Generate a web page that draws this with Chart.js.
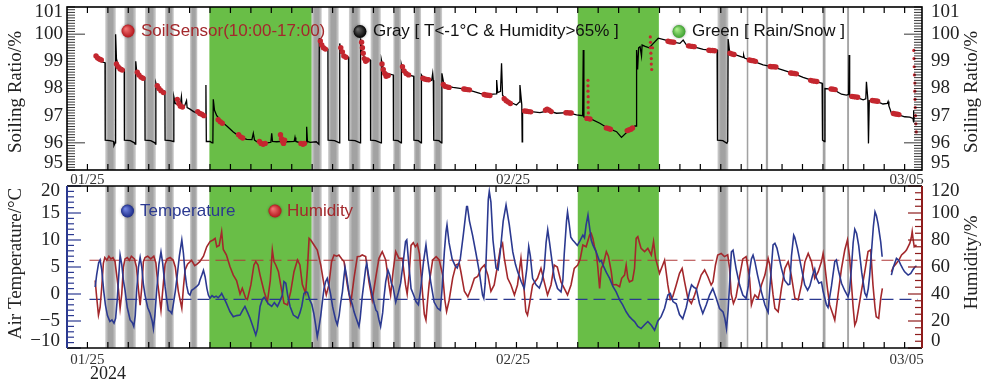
<!DOCTYPE html>
<html>
<head>
<meta charset="utf-8">
<title>Soiling ratio, temperature and humidity</title>
<script src="https://cdn.jsdelivr.net/npm/chart.js@4.4.1/dist/chart.umd.min.js"></script>
<style>
  html, body { margin: 0; padding: 0; background: #fff; }
  #wrap { position: relative; width: 983px; height: 386px; overflow: hidden; }
  canvas { position: absolute; left: 0; }
  #soilCanvas { top: 0; }
  #weatherCanvas { top: 180px; }
</style>
</head>
<body>
<div id="wrap">
  <canvas id="soilCanvas" width="983" height="190"></canvas>
  <canvas id="weatherCanvas" width="983" height="206"></canvas>
</div>
<script>
// Soiling ratio + weather — x values are days since 01/25 00:00

// ── Data ─────────────────────────────────────────────────────────
const soilLine = [
  [0.38, 99.15], [0.5, 99.05], [0.7, 98.98], [0.86, 98.95],
  [0.87, 96.1], [1.1, 96.08], [1.28, 96.05], [1.30, 95.9], [1.36, 96.0],
  [1.38, 100.0], [1.42, 99.1], [1.5, 98.85], [1.7, 98.75], [1.8, 98.7],
  [1.81, 96.1], [2.1, 96.08], [2.3, 96.0], [2.33, 95.95], [2.36, 96.05],
  [2.37, 99.0], [2.42, 98.55], [2.6, 98.45], [2.81, 98.4],
  [2.82, 96.1], [3.1, 96.08], [3.3, 96.0], [3.33, 95.95],
  [3.35, 98.2], [3.42, 98.0], [3.6, 97.95], [3.79, 97.9],
  [3.80, 96.1], [4.05, 96.08], [4.22, 96.05],
  [4.23, 97.7], [4.3, 97.45], [4.45, 97.4], [4.55, 97.42], [4.6, 97.7], [4.63, 97.38], [4.75, 97.35],
  [4.85, 97.55], [4.88, 97.3], [5.0, 97.25], [5.2, 97.15], [5.4, 97.08], [5.6, 97.05], [5.78, 97.02],
  [5.8, 98.13], [5.82, 96.05], [6.0, 96.05], [6.1, 96.0], [6.14, 96.05],
  [6.16, 97.6], [6.22, 97.2], [6.33, 97.0], [6.57, 96.78], [6.85, 96.6], [7.14, 96.4], [7.47, 96.22],
  [7.8, 96.13], [8.05, 96.12], [8.12, 96.35], [8.18, 96.1], [8.29, 96.04], [8.6, 96.0], [8.8, 96.0],
  [8.98, 96.02], [9.02, 96.35], [9.06, 96.05], [9.27, 96.04], [9.5, 96.05], [9.75, 96.04], [10.12, 96.05],
  [10.16, 96.2], [10.2, 96.05], [10.5, 95.98], [10.7, 96.0], [10.73, 96.59], [10.77, 96.05], [10.9, 96.02],
  [11.2, 96.04], [11.33, 95.95],
  [11.35, 99.85], [11.4, 99.65], [11.6, 99.5], [11.77, 99.45],
  [11.78, 96.1], [12.1, 96.08], [12.33, 96.0],
  [12.35, 99.66], [12.42, 99.3], [12.6, 99.2], [12.78, 99.15],
  [12.79, 96.1], [13.1, 96.08], [13.35, 96.0],
  [13.37, 99.85], [13.45, 99.3], [13.6, 99.1], [13.85, 99.05],
  [13.86, 96.1], [14.1, 96.08], [14.37, 96.0],
  [14.39, 99.05], [14.5, 98.65], [14.7, 98.55], [14.97, 98.5],
  [14.98, 96.1], [15.2, 96.08], [15.35, 96.0],
  [15.37, 98.87], [15.45, 98.6], [15.7, 98.5], [15.97, 98.45],
  [15.98, 96.1], [16.2, 96.08], [16.33, 96.0],
  [16.35, 98.5], [16.45, 98.38], [16.7, 98.33], [16.85, 98.3], [16.9, 98.56], [16.93, 98.3],
  [16.95, 96.1], [17.2, 96.08], [17.33, 96.0],
  [17.35, 98.56], [17.45, 98.15], [17.6, 98.08], [17.9, 98.04], [18.56, 97.97], [19.21, 97.82],
  [19.54, 97.76], [19.86, 97.79], [20.0, 97.8], [20.03, 98.31], [20.08, 97.85], [20.22, 97.9],
  [20.27, 98.93], [20.32, 97.75], [20.55, 97.55], [21.0, 97.39], [21.14, 97.5], [21.17, 98.13],
  [21.26, 97.4], [21.28, 96.04], [21.3, 97.21], [21.5, 97.17], [22.15, 97.11], [22.55, 97.18],
  [22.96, 97.09], [23.5, 97.11], [23.94, 97.03], [24.24, 97.0], [24.27, 99.42], [24.3, 96.95],
  [24.59, 96.9], [25.08, 96.72], [25.5, 96.53], [25.9, 96.41], [26.14, 96.2], [26.39, 96.38],
  [26.6, 96.47], [26.8, 96.62], [26.87, 96.62],
  [26.88, 99.42], [26.93, 98.7], [26.98, 99.5], [27.05, 99.54], [27.12, 99.2], [27.15, 99.6],
  [27.3, 99.55], [27.5, 99.5], [27.7, 99.66], [27.94, 99.85], [28.26, 99.79], [28.6, 99.72],
  [29.0, 99.66], [29.16, 99.78], [29.32, 99.6], [29.55, 99.56], [30.14, 99.44], [30.55, 99.4], [30.82, 99.42],
  [30.84, 96.1], [31.1, 96.08], [31.3, 95.98], [31.34, 96.05],
  [31.36, 99.82], [31.44, 99.3], [31.7, 99.25], [32.09, 99.15], [32.12, 99.23], [32.16, 99.12],
  [32.55, 99.02], [33.07, 98.87], [33.55, 98.8], [34.05, 98.68], [34.55, 98.56], [35.03, 98.41],
  [35.55, 98.28], [35.96, 98.19],
  [35.98, 96.1], [36.08, 96.05],
  [36.1, 98.0], [36.5, 97.97], [36.91, 97.79], [37.15, 97.76], [37.26, 97.78], [37.28, 99.23],
  [37.31, 97.7], [37.55, 97.7], [37.97, 97.58], [38.1, 97.62], [38.13, 98.25], [38.2, 97.6],
  [38.23, 95.98], [38.27, 97.55], [38.55, 97.55], [38.94, 97.43], [39.15, 97.45], [39.19, 97.52],
  [39.23, 97.36], [39.35, 97.1], [39.6, 97.06], [40.0, 96.96], [40.25, 96.95], [40.41, 96.9],
  [40.43, 97.2], [40.45, 96.75], [40.47, 96.95],
];

// SoilSensor readings between 10:00 and 17:00
const soilDots = [
  [0.42, 99.2], [0.5, 99.12], [0.6, 99.08], [0.68, 99.05],
  [1.42, 98.9], [1.5, 98.8], [1.6, 98.72], [1.7, 98.68],
  [2.44, 98.6], [2.52, 98.5], [2.62, 98.42], [2.72, 98.38],
  [3.42, 98.1], [3.5, 98.0], [3.6, 97.92], [3.72, 97.85],
  [4.4, 97.6], [4.47, 97.45], [4.55, 97.35], [4.65, 97.32],
  [5.4, 97.15], [5.5, 97.08], [5.6, 97.05], [5.7, 97.0],
  [6.4, 96.85], [6.5, 96.78], [6.6, 96.72],
  [7.4, 96.3], [7.5, 96.22], [7.6, 96.18],
  [8.42, 96.05], [8.5, 95.98], [8.6, 95.95], [8.7, 95.98],
  [9.45, 96.3], [9.5, 96.15], [9.55, 96.05], [9.6, 95.98], [9.65, 96.1],
  [10.45, 95.98], [10.55, 95.95], [10.62, 95.98],
  [11.4, 99.75], [11.47, 99.6], [11.55, 99.5], [11.65, 99.45],
  [12.4, 99.5], [12.48, 99.35], [12.55, 99.2], [12.65, 99.15],
  [13.42, 99.7], [13.46, 99.5], [13.5, 99.3], [13.55, 99.1], [13.62, 99.0], [13.7, 99.05],
  [14.42, 98.9], [14.48, 98.7], [14.55, 98.55], [14.62, 98.45], [14.72, 98.48],
  [15.42, 98.8], [15.5, 98.65], [15.6, 98.55], [15.72, 98.5],
  [16.42, 98.38], [16.5, 98.35], [16.6, 98.33], [16.7, 98.32],
  [17.42, 98.15], [17.5, 98.08], [17.6, 98.06], [17.7, 98.04],
  [18.42, 97.98], [18.5, 97.97], [18.6, 97.96], [18.7, 97.95],
  [19.42, 97.78], [19.5, 97.76], [19.6, 97.75], [19.7, 97.74],
  [20.4, 97.62], [20.5, 97.55], [20.6, 97.5], [20.7, 97.45],
  [21.4, 97.17], [21.5, 97.16], [21.6, 97.15], [21.7, 97.14],
  [22.42, 97.2], [22.5, 97.24], [22.6, 97.2], [22.7, 97.15],
  [23.42, 97.11], [23.5, 97.11], [23.6, 97.1], [23.68, 97.1],
  [24.45, 96.9], [24.6, 96.88],
  [25.4, 96.55], [25.5, 96.53], [25.6, 96.5],
  [26.42, 96.45], [26.5, 96.47], [26.6, 96.5], [26.68, 96.55],
  [28.42, 99.74], [28.5, 99.72], [28.6, 99.71], [28.7, 99.7],
  [29.42, 99.57], [29.5, 99.56], [29.6, 99.55], [29.7, 99.54],
  [30.42, 99.41], [30.5, 99.4], [30.6, 99.4], [30.7, 99.39],
  [31.45, 99.3], [31.55, 99.27], [31.65, 99.25],
  [32.4, 99.05], [32.5, 99.03], [32.6, 99.02], [32.7, 99.0],
  [33.42, 98.81], [33.5, 98.8], [33.6, 98.8], [33.7, 98.79],
  [34.42, 98.57], [34.5, 98.56], [34.6, 98.55], [34.7, 98.54],
  [35.4, 98.3], [35.5, 98.28], [35.6, 98.27], [35.7, 98.26],
  [36.4, 97.98], [36.5, 97.97], [36.6, 97.96],
  [37.42, 97.71], [37.5, 97.7], [37.6, 97.69], [37.7, 97.68],
  [38.42, 97.56], [38.5, 97.55], [38.6, 97.54], [38.68, 97.53],
  [39.45, 97.08], [39.55, 97.06], [39.65, 97.05], [39.72, 97.04],
];

// scattered sensor readings stacked in thin columns
const soilBurst = [
  [24.5, 98.3], [24.5, 98.1], [24.5, 97.9], [24.51, 97.7], [24.51, 97.5], [24.51, 97.3], [24.52, 97.1],
  [27.55, 99.9], [27.56, 99.7], [27.56, 99.5], [27.58, 99.3], [27.6, 99.1], [27.6, 98.9], [27.62, 98.7], [27.66, 99.5],
  [40.45, 99.4], [40.46, 99.1], [40.47, 98.8], [40.48, 98.5], [40.5, 98.2], [40.5, 97.9], [40.51, 97.6],
  [40.52, 97.3], [40.53, 97.0], [40.55, 96.7], [40.57, 96.4],
];

const tempLine = [
  [0.38, 1.3], [0.45, 3.5], [0.55, 5.8], [0.62, 6.3], [0.7, 4.5], [0.8, 0.5], [0.88, -2.0], [0.98, -4.0],
  [1.1, -5.1], [1.2, -4.8], [1.3, -5.4], [1.38, -4.5], [1.46, -1.0], [1.52, 2.6], [1.6, 7.2], [1.68, 5.5],
  [1.76, 2.5], [1.84, 0.7], [1.95, -2.5], [2.09, -4.8], [2.2, -5.3], [2.27, -6.0], [2.34, -4.0], [2.41, 0.7],
  [2.5, 5.0], [2.58, 6.8], [2.66, 5.0], [2.74, 1.8], [2.82, -0.2], [2.95, -2.5], [3.07, -3.6], [3.17, -5.0],
  [3.23, -6.4], [3.3, -4.0], [3.39, 0.7], [3.5, 5.5], [3.6, 7.8], [3.68, 5.8], [3.8, 1.4], [3.9, -1.5],
  [3.96, -3.0], [4.05, -3.2], [4.13, -3.6], [4.22, -1.5], [4.3, 0.5], [4.37, 2.6], [4.5, 7.0], [4.62, 10.0],
  [4.7, 7.5], [4.78, 3.8], [4.86, 1.5], [4.94, 0.1], [5.02, -0.2], [5.1, 0.7], [5.22, 1.0], [5.35, 1.4],
  [5.45, 1.8], [5.51, 2.6], [5.6, 3.5], [5.68, 4.4], [5.76, 3.2], [5.85, 1.0], [5.92, -0.2], [6.0, -0.8],
  [6.1, -0.3], [6.2, -0.6], [6.3, -0.4], [6.4, -0.7], [6.5, -0.3], [6.57, 0.1], [6.65, -0.5], [6.8, -1.7],
  [6.9, -2.6], [6.98, -3.3], [7.14, -4.2], [7.3, -4.0], [7.47, -3.9], [7.6, -3.0], [7.71, -2.3], [7.85, -3.5],
  [7.96, -4.5], [8.1, -6.0], [8.24, -7.6], [8.32, -6.5], [8.45, -2.3], [8.56, -1.0], [8.65, -0.6], [8.73, -1.1],
  [8.85, -1.8], [9.02, -2.3], [9.15, -1.6], [9.3, -2.3], [9.4, -1.5], [9.54, -0.2], [9.62, 2.3], [9.71, 2.0],
  [9.8, -0.2], [9.92, -2.3], [10.08, -3.9], [10.2, -4.2], [10.3, -4.5], [10.4, -3.5], [10.49, -2.3], [10.6, 0.1],
  [10.7, 0.4], [10.77, 0.3], [10.88, -1.1], [10.98, -1.9], [11.08, -3.6], [11.17, -5.7], [11.25, -7.9], [11.32, -6.5],
  [11.42, -4.0], [11.5, -1.4], [11.58, 1.0], [11.66, 2.3], [11.74, 2.9], [11.82, 1.5], [11.9, 0.0], [12.0, -2.3],
  [12.07, -3.5], [12.15, -4.8], [12.23, -5.7], [12.32, -4.0], [12.4, -1.5], [12.48, 0.4], [12.55, 3.0], [12.61, 4.9],
  [12.7, 3.0], [12.8, 0.2], [12.9, -1.2], [12.97, -2.0], [13.05, -3.3], [13.13, -4.2], [13.22, -5.2], [13.29, -6.0],
  [13.35, -4.5], [13.45, -0.5], [13.54, 2.3], [13.62, 4.8], [13.67, 5.7], [13.76, 3.5], [13.86, 1.4], [13.95, -0.3],
  [14.03, -1.7], [14.12, -3.0], [14.19, -3.3], [14.27, -4.8], [14.35, -6.0], [14.45, -3.5], [14.52, -0.5], [14.6, 2.3],
  [14.71, 4.4], [14.8, 3.5], [14.88, 2.0], [14.96, 1.3], [15.09, -1.5], [15.22, 0.3], [15.33, 2.0], [15.46, 6.0],
  [15.57, 9.7], [15.63, 10.0], [15.72, 6.0], [15.84, 1.0], [16.0, -0.5], [16.08, -1.4], [16.2, -2.0], [16.3, 0.5],
  [16.45, 6.0], [16.57, 9.1], [16.65, 6.5], [16.8, 2.3], [16.97, -1.5], [17.14, -2.65], [17.27, -3.0], [17.35, 0.5],
  [17.47, 7.8], [17.55, 11.5], [17.6, 12.8], [17.7, 9.5], [17.85, 6.5], [18.0, 5.2], [18.1, 4.8], [18.25, 6.5],
  [18.4, 11.0], [18.56, 16.2], [18.6, 16.2], [18.7, 13.5], [18.85, 10.9], [19.02, 7.5], [19.18, 4.1], [19.34, -0.2],
  [19.4, -0.8], [19.47, 2.0], [19.55, 10.0], [19.62, 17.5], [19.67, 19.0], [19.75, 17.0], [19.85, 10.0], [20.0, 4.8],
  [20.1, 4.5], [20.2, 7.5], [20.35, 13.5], [20.49, 16.5], [20.65, 12.8], [20.82, 7.8], [20.95, 5.5], [21.06, 4.1],
  [21.23, 2.3], [21.38, 1.0], [21.5, 4.5], [21.6, 8.8], [21.68, 7.0], [21.79, 2.9], [21.96, 1.7], [22.12, 1.1],
  [22.25, 2.5], [22.36, 4.8], [22.45, 9.5], [22.53, 11.9], [22.62, 9.5], [22.7, 7.2], [22.85, 3.0], [23.01, 1.0],
  [23.18, 0.4], [23.27, 2.5], [23.34, 7.5], [23.45, 13.5], [23.5, 15.2], [23.58, 13.0], [23.66, 10.5], [23.75, 10.0],
  [23.85, 9.6], [23.98, 9.0], [24.1, 9.8], [24.25, 10.9], [24.33, 10.4], [24.41, 12.8], [24.5, 14.6], [24.58, 12.3],
  [24.66, 10.0], [24.74, 9.1], [24.9, 7.8], [25.07, 6.0], [25.15, 6.2], [25.23, 5.4], [25.4, 4.0], [25.56, 2.9],
  [25.72, 1.4], [25.88, 0.4], [26.05, -1.1], [26.2, -2.0], [26.37, -3.3], [26.53, -4.2], [26.66, -4.7], [26.78, -5.1],
  [26.94, -6.0], [27.1, -6.4], [27.27, -5.7], [27.43, -5.1], [27.6, -5.8], [27.76, -6.7], [27.92, -5.0], [28.08, -4.2],
  [28.25, -2.65], [28.41, -0.2], [28.53, 0.1], [28.66, -1.4], [28.82, -1.8], [28.98, -3.8], [29.14, -4.6], [29.31, -2.5],
  [29.47, 0.4], [29.57, 1.7], [29.7, 1.2], [29.8, 1.0], [29.96, -1.8], [30.12, -3.6], [30.29, -2.0], [30.45, -0.2],
  [30.61, 1.0], [30.78, -0.8], [30.94, -2.7], [31.11, -3.3], [31.2, -4.5], [31.28, -6.4], [31.36, -3.0], [31.45, 3.0],
  [31.52, 7.8], [31.6, 8.1], [31.75, 4.7], [31.92, 1.7], [32.08, -0.2], [32.24, -0.8], [32.35, 1.5], [32.42, 4.5],
  [32.5, 6.5], [32.58, 7.2], [32.67, 6.0], [32.8, 3.5], [32.99, 0.4], [33.16, -2.0], [33.27, -3.0], [33.32, -3.4],
  [33.4, 1.0], [33.49, 5.5], [33.56, 9.1], [33.65, 9.4], [33.75, 8.5], [33.97, 4.75], [34.13, 2.5], [34.3, 1.7],
  [34.38, 1.8], [34.46, 7.0], [34.57, 10.9], [34.62, 10.5], [34.75, 8.5], [34.95, 4.75], [35.11, 1.7], [35.25, 0.7],
  [35.36, 1.5], [35.5, 3.5], [35.6, 4.6], [35.68, 3.0], [35.8, 2.0], [35.93, 2.2], [36.01, 0.5], [36.17, -2.0],
  [36.25, -2.5], [36.42, 1.5], [36.58, 6.0], [36.66, 6.3], [36.75, 4.5], [36.91, 2.0], [37.07, 0.6], [37.23, -0.5],
  [37.3, 0.5], [37.4, 5.0], [37.48, 9.5], [37.56, 12.0], [37.65, 11.2], [37.75, 9.0], [37.9, 4.0], [38.05, 0.2],
  [38.14, -0.5], [38.22, 1.0], [38.29, 3.5], [38.37, 7.5], [38.47, 12.5], [38.55, 15.2], [38.62, 14.5], [38.7, 13.0],
  [38.83, 9.6], [38.9, 6.9],
  [39.1, null],
  [39.35, 3.5], [39.45, 5.0], [39.6, 6.6], [39.7, 6.3], [39.8, 5.5], [39.9, 4.75], [40.0, 4.1], [40.17, 3.5],
  [40.3, 3.8], [40.41, 4.5], [40.5, 5.0], [40.58, 5.2],
];

const humLine = [
  [0.38, 50], [0.45, 38], [0.54, 24.4], [0.62, 30], [0.7, 45], [0.78, 62.7], [0.85, 67], [0.95, 65],
  [1.05, 68], [1.15, 66], [1.25, 67], [1.35, 64], [1.45, 52], [1.52, 43], [1.6, 29.4], [1.68, 40],
  [1.76, 60], [1.84, 66], [1.95, 67], [2.05, 65], [2.15, 68], [2.3, 66], [2.4, 60], [2.5, 43],
  [2.58, 31.8], [2.66, 45], [2.74, 64], [2.82, 67], [2.95, 68], [3.1, 66], [3.25, 68], [3.35, 63],
  [3.45, 47], [3.6, 28], [3.7, 45], [3.8, 62], [3.9, 66], [4.05, 67], [4.2, 65], [4.3, 60],
  [4.45, 42], [4.62, 29.4], [4.7, 45], [4.78, 57.8], [4.9, 62], [5.1, 65], [5.25, 61], [5.35, 62],
  [5.5, 64], [5.68, 68], [5.84, 75], [6.0, 78.8], [6.15, 80], [6.25, 81.2], [6.33, 75], [6.45, 76],
  [6.57, 86.2], [6.65, 73], [6.8, 69], [6.98, 60.2], [7.14, 54], [7.3, 50], [7.47, 40], [7.58, 44.2],
  [7.75, 36.8], [7.83, 36], [8.0, 46.7], [8.15, 61.5], [8.24, 64], [8.35, 61.5], [8.45, 54], [8.65, 41.7],
  [8.81, 34.3], [8.95, 50], [9.05, 72.6], [9.13, 64], [9.22, 61.5], [9.35, 56.5], [9.46, 46.7], [9.62, 33.1],
  [9.79, 31.9], [9.95, 41.7], [10.11, 56.5], [10.28, 65.2], [10.4, 61.5], [10.52, 47], [10.68, 40.5], [10.77, 59],
  [10.85, 81.2], [10.93, 80], [11.09, 76.3], [11.25, 72.6], [11.42, 61.5], [11.58, 46.7], [11.69, 39.3], [11.82, 46.7],
  [11.95, 64], [12.07, 68.9], [12.2, 68], [12.31, 68.9], [12.45, 66], [12.56, 64], [12.72, 46.7], [12.89, 33.1],
  [13.05, 52], [13.21, 67.7], [13.35, 68], [13.45, 68.9], [13.62, 67.7], [13.78, 49], [13.94, 35.6], [14.11, 52],
  [14.27, 66.4], [14.43, 71.4], [14.6, 65.2], [14.76, 46.7], [14.84, 39.3], [14.96, 56.5], [15.09, 71.4], [15.25, 66.4],
  [15.41, 66.4], [15.57, 46.7], [15.65, 40], [15.75, 55], [15.84, 76], [15.95, 78], [16.05, 75], [16.15, 77],
  [16.25, 70], [16.33, 55], [16.41, 39.3], [16.49, 25], [16.57, 20.7], [16.65, 35], [16.73, 48], [16.9, 65.2],
  [17.07, 67.7], [17.22, 65.2], [17.39, 54], [17.5, 35], [17.58, 27], [17.7, 35], [17.88, 52], [18.04, 61.5],
  [18.2, 62.7], [18.28, 56.5], [18.45, 42], [18.62, 38], [18.78, 44], [18.94, 51.6], [19.1, 53], [19.27, 59],
  [19.43, 61.5], [19.6, 54], [19.75, 42], [19.91, 46.7], [20.08, 61.5], [20.21, 73.8], [20.32, 77.5], [20.4, 67],
  [20.57, 51.6], [20.73, 46.7], [20.9, 39.3], [21.05, 46.7], [21.22, 66.4], [21.38, 42], [21.46, 27], [21.54, 24.4],
  [21.63, 31.9], [21.79, 46.7], [22.03, 51.6], [22.2, 59], [22.36, 49], [22.52, 39.3], [22.69, 46.7], [22.85, 61.5],
  [23.0, 60], [23.18, 49], [23.34, 44.2], [23.5, 39.3], [23.67, 46.7], [23.83, 59], [24.0, 61.5], [24.12, 66],
  [24.25, 76.3], [24.41, 75], [24.58, 83.7], [24.66, 84.9], [24.74, 81.2], [24.82, 75], [24.9, 71.4], [24.98, 60],
  [25.07, 44.2], [25.15, 59], [25.25, 62], [25.4, 71.4], [25.5, 68], [25.64, 56.5], [25.72, 46.7], [25.88, 47],
  [26.05, 45.4], [26.15, 51.6], [26.29, 54], [26.37, 61.5], [26.45, 52], [26.53, 49], [26.68, 50], [26.78, 59],
  [26.86, 81.2], [26.94, 82.5], [27.02, 78], [27.1, 73.8], [27.27, 71.4], [27.43, 73.8], [27.6, 68.9], [27.71, 78.8],
  [27.81, 66.4], [27.92, 60.2], [28.0, 55.3], [28.16, 61.5], [28.25, 65], [28.41, 46.7], [28.53, 36], [28.65, 38],
  [28.82, 46.7], [28.98, 55.3], [29.11, 59], [29.23, 49], [29.39, 36.8], [29.56, 33], [29.72, 39.3], [29.88, 46.7],
  [30.04, 54], [30.21, 57.8], [30.37, 52.8], [30.53, 46.7], [30.62, 49], [30.74, 61.5], [30.85, 68.9], [31.02, 70],
  [31.18, 67.7], [31.34, 69], [31.43, 59], [31.51, 40], [31.62, 33], [31.75, 38], [31.92, 52.8], [32.08, 66],
  [32.24, 67.7], [32.41, 52], [32.5, 32], [32.58, 36], [32.67, 39.3], [32.83, 36.8], [32.99, 46.7], [33.16, 54],
  [33.32, 66.4], [33.4, 61.5], [33.56, 39.3], [33.65, 29.4], [33.81, 26.9], [33.97, 44.2], [34.14, 59], [34.3, 64],
  [34.45, 54], [34.63, 36.8], [34.79, 35.6], [34.95, 46.7], [35.12, 64], [35.28, 70], [35.44, 64], [35.6, 51.6],
  [35.77, 56.5], [35.93, 64], [36.01, 70], [36.09, 61.5], [36.22, 44.2], [36.33, 31.9], [36.5, 24.4], [36.58, 20.7],
  [36.74, 39.3], [36.91, 59], [37.07, 72.6], [37.2, 80], [37.31, 66.4], [37.4, 46.7], [37.48, 30], [37.56, 17.0],
  [37.64, 20], [37.72, 27], [37.88, 41.7], [38.05, 56.5], [38.21, 71.4], [38.34, 72.6], [38.45, 46.7], [38.55, 30],
  [38.61, 23.2], [38.73, 22], [38.83, 36.8], [38.91, 44.2],
  [39.1, null],
  [39.35, 56.5], [39.45, 60], [39.6, 62.7], [39.75, 66], [39.85, 68.9], [40.0, 71], [40.09, 72.6], [40.25, 77.5],
  [40.33, 82], [40.37, 86.2], [40.42, 80], [40.47, 75], [40.58, 76.3],
];

// threshold lines: T = -1 °C and humidity = 65 %
const tempRef = [[0.1, -1], [40.65, -1]];
const humRef = [[0.1, 65], [40.65, 65]];

// nights with T<-1°C & humidity>65% (gray) and rain/snow (green), in days
const grayBands = [
  [0.87, 1.39], [1.81, 2.37], [2.82, 3.35], [3.80, 4.23], [5.02, 5.38],
  [10.98, 11.47], [11.78, 12.3], [12.8, 13.36], [13.86, 14.36], [14.97, 15.35],
  [15.98, 16.33], [16.95, 17.36], [30.84, 31.37], [32.26, 32.36], [33.2, 33.32],
  [35.98, 36.14], [37.18, 37.28],
];
const greenBands = [[5.97, 10.98], [24.0, 27.97]];

const soilTicks = [95, 96, 97, 98, 99, 100, 101];
const tempTicks = [-10, -5, 0, 5, 10, 15, 20];
const humTicks = [0, 20, 40, 60, 80, 100, 120];
const dateTicks = [0, 20.83, 40.1];
const dateLabels = ['01/25', '02/25', '03/05'];

// ── Styles ───────────────────────────────────────────────────────
const SERIF = '"Liberation Serif", "Times New Roman", serif';
const SANS = '"Liberation Sans", Arial, sans-serif';
const NAVY = '#2b3990';
const BROWN = '#a3282c';
const AXIS_RED = '#8e1c1c';
const GREEN = '#69be47';
const DAY_MIN = -1;
const DAY_MAX = 40.85;

const fmt = v => (v < 0 ? '\u2212' + (-v) : String(v));

function xAxis(pad, height) {
  return {
    type: 'linear', min: DAY_MIN, max: DAY_MAX,
    afterFit: s => { s.height = height; s.paddingLeft = 0; s.paddingRight = 0; },
    afterBuildTicks: s => { s.ticks = dateTicks.map(v => ({ value: v })); },
    grid: { display: false, drawTicks: false },
    border: { display: false },
    ticks: {
      autoSkip: false, maxRotation: 0, padding: pad, color: '#333',
      font: { family: SERIF, size: 15 },
      callback: (v, i) => dateLabels[i],
    },
  };
}

// edge labels sit a little inside the frame, as in the source figure
function yAxis(position, ticks, pad, width) {
  const min = ticks[0], max = ticks[ticks.length - 1], span = max - min;
  return {
    type: 'linear', position, min, max,
    afterFit: s => { s.width = width; s.paddingTop = 0; s.paddingBottom = 0; },
    afterBuildTicks: s => {
      s.ticks = ticks.map(v => ({ value: v === min ? v + span * 0.045 : v === max ? v - span * 0.028 : v }));
    },
    grid: { display: false, drawTicks: false },
    border: { display: false },
    ticks: {
      autoSkip: false, padding: pad, color: '#222',
      font: { family: SERIF, size: 19 },
      callback: (v, i) => fmt(ticks[i]),
    },
  };
}

// ── Drawing helpers ──────────────────────────────────────────────
function drawBands(chart) {
  const { ctx, chartArea: a, scales: { x } } = chart;
  ctx.save();
  greenBands.forEach(([s, e]) => {
    const x0 = x.getPixelForValue(s), x1 = x.getPixelForValue(e);
    ctx.fillStyle = GREEN;
    ctx.fillRect(x0, a.top, x1 - x0, a.bottom - a.top);
  });
  grayBands.forEach(([s, e]) => {
    const x0 = x.getPixelForValue(s), x1 = x.getPixelForValue(e);
    const g = ctx.createLinearGradient(x0, 0, x1, 0);
    g.addColorStop(0, '#d2d2d2');
    g.addColorStop(0.3, '#a2a2a2');
    g.addColorStop(0.7, '#a2a2a2');
    g.addColorStop(1, '#d2d2d2');
    ctx.fillStyle = g;
    ctx.fillRect(x0, a.top, x1 - x0, a.bottom - a.top);
  });
  ctx.restore();
}

function line(ctx, x0, y0, x1, y1) {
  ctx.beginPath(); ctx.moveTo(x0, y0); ctx.lineTo(x1, y1); ctx.stroke();
}

function drawDayTicks(chart) {
  const { ctx, chartArea: a, scales: { x } } = chart;
  ctx.save();
  ctx.strokeStyle = '#000';
  ctx.lineWidth = 1.2;
  for (let d = 0; d <= 40; d++) {
    const px = x.getPixelForValue(d);
    line(ctx, px, a.bottom, px, a.bottom - 6);
    line(ctx, px, a.top, px, a.top + 6);
  }
  ctx.restore();
}

function sphere(ctx, x, y, r, light, dark) {
  const g = ctx.createRadialGradient(x - r * 0.35, y - r * 0.35, r * 0.1, x, y, r);
  g.addColorStop(0, light);
  g.addColorStop(1, dark);
  ctx.save();
  ctx.shadowColor = 'rgba(0,0,0,0.35)';
  ctx.shadowBlur = 3;
  ctx.fillStyle = g;
  ctx.beginPath(); ctx.arc(x, y, r, 0, Math.PI * 2); ctx.fill();
  ctx.restore();
}

function legendText(ctx, text, x, y, color) {
  ctx.save();
  ctx.font = '17px ' + SANS;
  ctx.textBaseline = 'middle';
  ctx.fillStyle = color;
  ctx.fillText(text, x, y);
  ctx.restore();
}

function vTitle(ctx, text, x, y, color) {
  ctx.save();
  ctx.translate(x, y);
  ctx.rotate(-Math.PI / 2);
  ctx.font = '19px ' + SERIF;
  ctx.textAlign = 'center';
  ctx.textBaseline = 'middle';
  ctx.fillStyle = color;
  ctx.fillText(text, 0, 0);
  ctx.restore();
}

// ── Soiling ratio panel ──────────────────────────────────────────
const soilDecor = {
  id: 'soilDecor',
  beforeDatasetsDraw: chart => drawBands(chart),
  afterDatasetsDraw: chart => {
    const { ctx, chartArea: a, scales: { y } } = chart;
    drawDayTicks(chart);
    ctx.save();
    ctx.strokeStyle = '#000';
    ctx.lineWidth = 0.8;
    for (let i = 0; i <= 60; i++) {
      const py = y.getPixelForValue(95 + i / 10);
      const len = (i === 10 || i === 50) ? 18 : 8;
      line(ctx, a.left, py, a.left + len, py);
      line(ctx, a.right, py, a.right - len, py);
    }
    ctx.lineWidth = 1.6;
    ctx.strokeRect(a.left, a.top, a.right - a.left, a.bottom - a.top);
    ctx.restore();

    sphere(ctx, 128, 31, 6.5, '#f07070', '#b3161c');
    legendText(ctx, 'SoilSensor(10:00-17:00)', 141, 31, BROWN);
    sphere(ctx, 360, 31.5, 6.5, '#666', '#000');
    legendText(ctx, 'Gray [ T<-1\u00b0C & Humidity>65% ]', 373, 31.5, '#111');
    sphere(ctx, 679, 31.5, 6.5, '#a8ec88', '#3c9f2f');
    legendText(ctx, 'Green [ Rain/Snow ]', 692, 31.5, '#111');

    vTitle(ctx, 'Soiling Ratio/%', 16, 92, '#222');
    vTitle(ctx, 'Soiling Ratio/%', 972, 92, '#222');
  },
};

new Chart(document.getElementById('soilCanvas'), {
  type: 'scatter',
  data: {
    datasets: [
      { label: 'SoilSensor burst', data: soilBurst, pointRadius: 1.6, pointBackgroundColor: '#c4272f', pointBorderWidth: 0 },
      { label: 'SoilSensor(10:00-17:00)', data: soilDots, pointRadius: 2.7, pointBackgroundColor: '#c4272f', pointBorderWidth: 0 },
      { label: 'Soiling ratio', data: soilLine, showLine: true, borderColor: '#000', borderWidth: 1.3, pointRadius: 0 },
    ],
  },
  options: {
    responsive: false, animation: false, events: [],
    layout: { padding: { top: 7, right: 0, bottom: 0, left: 0 } },
    plugins: { legend: { display: false }, tooltip: { enabled: false } },
    scales: {
      x: xAxis(1, 20),
      y: yAxis('left', soilTicks, 4, 67),
      y2: yAxis('right', soilTicks, 9, 61),
    },
  },
  plugins: [soilDecor],
});

// ── Temperature / humidity panel ─────────────────────────────────
const weatherDecor = {
  id: 'weatherDecor',
  beforeDatasetsDraw: chart => drawBands(chart),
  afterDatasetsDraw: chart => {
    const { ctx, chartArea: a, scales: { yT, yH } } = chart;
    drawDayTicks(chart);
    ctx.save();
    ctx.lineWidth = 1.2;
    ctx.strokeStyle = NAVY;
    for (let i = 0; i <= 30; i++) {
      const py = yT.getPixelForValue(-10 + i);
      line(ctx, a.left, py, a.left + (i % 5 === 0 ? 14 : 7), py);
    }
    ctx.strokeStyle = AXIS_RED;
    for (let i = 0; i <= 24; i++) {
      const py = yH.getPixelForValue(i * 5);
      line(ctx, a.right, py, a.right - (i % 4 === 0 ? 14 : 7), py);
    }
    ctx.lineWidth = 1.6;
    ctx.strokeStyle = '#000';
    line(ctx, a.left, a.top, a.right, a.top);
    line(ctx, a.left, a.bottom, a.right, a.bottom);
    ctx.lineWidth = 2;
    ctx.strokeStyle = NAVY;
    line(ctx, a.left, a.top, a.left, a.bottom);
    ctx.strokeStyle = AXIS_RED;
    line(ctx, a.right, a.top, a.right, a.bottom);
    ctx.restore();

    sphere(ctx, 127.5, 31, 6.5, '#6f82e0', '#1b2a86');
    legendText(ctx, 'Temperature', 140, 31, NAVY);
    sphere(ctx, 275, 31, 6.5, '#f07070', '#b3161c');
    legendText(ctx, 'Humidity', 287, 31, BROWN);

    ctx.save();
    ctx.font = '18px ' + SERIF;
    ctx.textAlign = 'center';
    ctx.textBaseline = 'middle';
    ctx.fillStyle = '#222';
    ctx.fillText('2024', 108, 194);
    ctx.restore();

    vTitle(ctx, 'Air Temperature/\u00b0C', 16, 83.5, '#222');
    vTitle(ctx, 'Humidity/%', 972, 82.5, '#222');
  },
};

new Chart(document.getElementById('weatherCanvas'), {
  type: 'scatter',
  data: {
    datasets: [
      { label: 'Temperature', data: tempLine, yAxisID: 'yT', showLine: true, spanGaps: false, borderColor: NAVY, borderWidth: 1.6, pointRadius: 0 },
      { label: 'Humidity', data: humLine, yAxisID: 'yH', showLine: true, spanGaps: false, borderColor: BROWN, borderWidth: 1.6, pointRadius: 0 },
      { label: 'T = -1', data: tempRef, yAxisID: 'yT', showLine: true, borderColor: NAVY, borderWidth: 1.2, borderDash: [12, 6], pointRadius: 0 },
      { label: 'RH = 65', data: humRef, yAxisID: 'yH', showLine: true, borderColor: '#b03a3a', borderWidth: 1.2, borderDash: [12, 6], pointRadius: 0 },
    ],
  },
  options: {
    responsive: false, animation: false, events: [],
    layout: { padding: { top: 6, right: 0, bottom: 0, left: 0 } },
    plugins: { legend: { display: false }, tooltip: { enabled: false } },
    scales: {
      x: xAxis(3, 38),
      yT: yAxis('left', tempTicks, 7, 67),
      yH: yAxis('right', humTicks, 9, 61),
    },
  },
  plugins: [weatherDecor],
});
</script>
</body>
</html>
